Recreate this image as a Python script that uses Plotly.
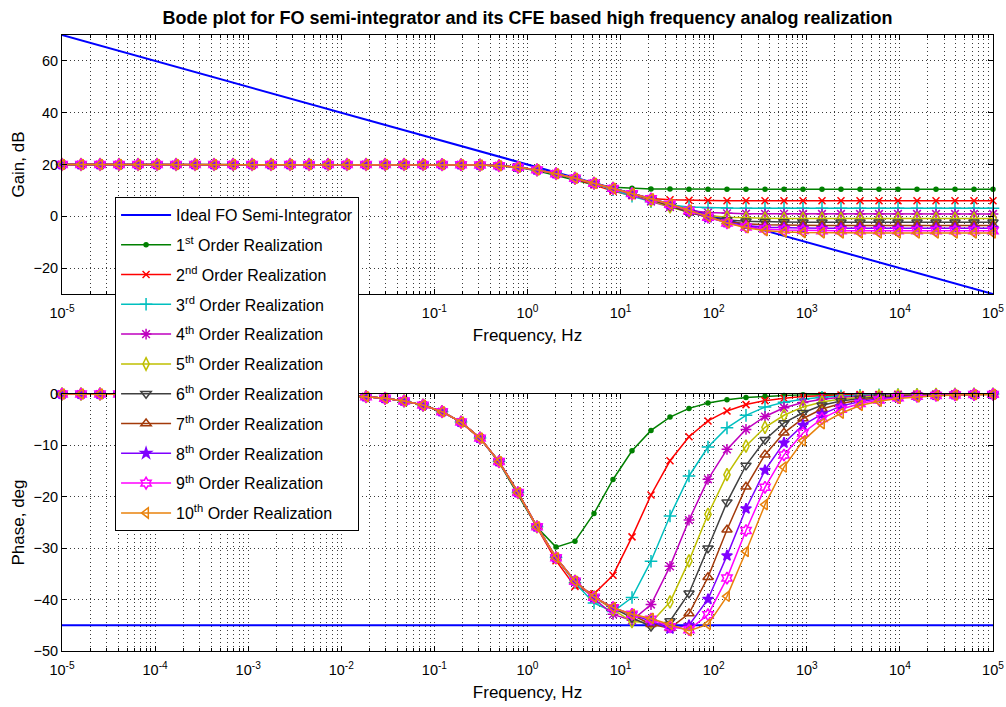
import plotly.graph_objects as go

# ---------------- data ----------------
freq = [1.000e-05, 1.600e-05, 2.560e-05, 4.095e-05, 6.551e-05,
        1.048e-04, 1.677e-04, 2.683e-04, 4.292e-04, 6.866e-04,
        1.099e-03, 1.758e-03, 2.812e-03, 4.499e-03, 7.197e-03,
        1.151e-02, 1.842e-02, 2.947e-02, 4.715e-02, 7.543e-02,
        0.1207, 0.1931, 0.3089, 0.4942, 0.7906,
        1.265, 2.024, 3.237, 5.179, 8.286,
        13.26, 21.21, 33.93, 54.29, 86.85,
        138.9, 222.3, 355.6, 569.0, 910.3,
        1456, 2330, 3728, 5964, 9541,
        15264, 24421, 39069, 62506, 100000]

ideal_freq = [1e-05, 1e05]
ideal_gain = [70.0, -30.0]
ideal_phase = [-45.0, -45.0]

gain_1 = [20.0, 20.0, 20.0, 20.0, 20.0, 20.0, 20.0, 20.0, 20.0, 20.0,
          20.0, 20.0, 20.0, 20.0, 20.0, 20.0, 20.0, 20.0, 20.0, 19.99,
          19.97, 19.92, 19.80, 19.51, 18.86, 17.63, 15.80, 13.80, 12.21, 11.26,
          10.79, 10.59, 10.51, 10.48, 10.47, 10.46, 10.46, 10.46, 10.46, 10.46,
          10.46, 10.46, 10.46, 10.46, 10.46, 10.46, 10.46, 10.46, 10.46, 10.46]
gain_2 = [20.0, 20.0, 20.0, 20.0, 20.0, 20.0, 20.0, 20.0, 20.0, 20.0,
          20.0, 20.0, 20.0, 20.0, 20.0, 20.0, 20.0, 20.0, 20.0, 19.99,
          19.97, 19.92, 19.80, 19.53, 18.95, 17.94, 16.45, 14.46, 12.07, 9.73,
          7.95, 6.90, 6.39, 6.17, 6.08, 6.04, 6.03, 6.02, 6.02, 6.02,
          6.02, 6.02, 6.02, 6.02, 6.02, 6.02, 6.02, 6.02, 6.02, 6.02]
gain_3 = [20.0, 20.0, 20.0, 20.0, 20.0, 20.0, 20.0, 20.0, 20.0, 20.0,
          20.0, 20.0, 20.0, 20.0, 20.0, 20.0, 20.0, 20.0, 20.0, 19.99,
          19.97, 19.92, 19.80, 19.53, 18.95, 17.93, 16.46, 14.72, 12.68, 10.28,
          7.77, 5.68, 4.33, 3.63, 3.32, 3.19, 3.13, 3.11, 3.10, 3.10,
          3.10, 3.10, 3.10, 3.10, 3.10, 3.10, 3.10, 3.10, 3.10, 3.10]
gain_4 = [20.0, 20.0, 20.0, 20.0, 20.0, 20.0, 20.0, 20.0, 20.0, 20.0,
          20.0, 20.0, 20.0, 20.0, 20.0, 20.0, 20.0, 20.0, 20.0, 19.99,
          19.97, 19.92, 19.80, 19.53, 18.95, 17.93, 16.46, 14.71, 12.83, 10.73,
          8.27, 5.71, 3.59, 2.20, 1.48, 1.15, 1.01, 0.95, 0.93, 0.92,
          0.92, 0.92, 0.92, 0.92, 0.92, 0.92, 0.92, 0.92, 0.92, 0.92]
gain_5 = [20.0, 20.0, 20.0, 20.0, 20.0, 20.0, 20.0, 20.0, 20.0, 20.0,
          20.0, 20.0, 20.0, 20.0, 20.0, 20.0, 20.0, 20.0, 20.0, 19.99,
          19.97, 19.92, 19.80, 19.53, 18.95, 17.93, 16.46, 14.70, 12.80, 10.84,
          8.66, 6.15, 3.63, 1.61, 0.32, -0.33, -0.62, -0.74, -0.80, -0.82,
          -0.83, -0.83, -0.83, -0.83, -0.83, -0.83, -0.83, -0.83, -0.83, -0.83]
gain_6 = [20.0, 20.0, 20.0, 20.0, 20.0, 20.0, 20.0, 20.0, 20.0, 20.0,
          20.0, 20.0, 20.0, 20.0, 20.0, 20.0, 20.0, 20.0, 20.0, 19.99,
          19.97, 19.92, 19.80, 19.53, 18.95, 17.93, 16.46, 14.70, 12.78, 10.82,
          8.80, 6.52, 3.95, 1.51, -0.31, -1.38, -1.90, -2.12, -2.22, -2.26,
          -2.27, -2.28, -2.28, -2.28, -2.28, -2.28, -2.28, -2.28, -2.28, -2.28]
gain_7 = [20.0, 20.0, 20.0, 20.0, 20.0, 20.0, 20.0, 20.0, 20.0, 20.0,
          20.0, 20.0, 20.0, 20.0, 20.0, 20.0, 20.0, 20.0, 20.0, 19.99,
          19.97, 19.92, 19.80, 19.53, 18.95, 17.93, 16.46, 14.70, 12.78, 10.79,
          8.81, 6.71, 4.29, 1.71, -0.53, -2.05, -2.87, -3.24, -3.41, -3.48,
          -3.51, -3.52, -3.52, -3.52, -3.52, -3.52, -3.52, -3.52, -3.52, -3.52]
gain_8 = [20.0, 20.0, 20.0, 20.0, 20.0, 20.0, 20.0, 20.0, 20.0, 20.0,
          20.0, 20.0, 20.0, 20.0, 20.0, 20.0, 20.0, 20.0, 20.0, 19.99,
          19.97, 19.92, 19.80, 19.53, 18.95, 17.93, 16.46, 14.70, 12.78, 10.79,
          8.78, 6.77, 4.53, 1.99, -0.50, -2.42, -3.59, -4.18, -4.44, -4.54,
          -4.59, -4.60, -4.61, -4.61, -4.61, -4.61, -4.61, -4.61, -4.61, -4.61]
gain_9 = [20.0, 20.0, 20.0, 20.0, 20.0, 20.0, 20.0, 20.0, 20.0, 20.0,
          20.0, 20.0, 20.0, 20.0, 20.0, 20.0, 20.0, 20.0, 20.0, 19.99,
          19.97, 19.92, 19.80, 19.53, 18.95, 17.93, 16.46, 14.70, 12.78, 10.79,
          8.76, 6.78, 4.67, 2.25, -0.33, -2.57, -4.09, -4.92, -5.29, -5.46,
          -5.54, -5.56, -5.58, -5.58, -5.58, -5.58, -5.58, -5.58, -5.58, -5.58]
gain_10 = [20.0, 20.0, 20.0, 20.0, 20.0, 20.0, 20.0, 20.0, 20.0, 20.0,
           20.0, 20.0, 20.0, 20.0, 20.0, 20.0, 20.0, 20.0, 20.0, 19.99,
           19.97, 19.92, 19.80, 19.53, 18.95, 17.93, 16.46, 14.70, 12.78, 10.79,
           8.76, 6.76, 4.73, 2.45, -0.11, -2.56, -4.42, -5.51, -6.06, -6.28,
           -6.38, -6.42, -6.44, -6.44, -6.44, -6.44, -6.44, -6.44, -6.44, -6.44]

phase_1 = [0.0, 0.0, 0.0, 0.0, 0.0, 0.0, 0.0, 0.0, 0.0, 0.0,
           -0.03, -0.05, -0.08, -0.13, -0.21, -0.33, -0.53, -0.84, -1.35, -2.16,
           -3.44, -5.48, -8.63, -13.30, -19.48, -25.94, -29.79, -28.64, -23.24, -16.63,
           -11.05, -7.08, -4.48, -2.80, -1.76, -1.10, -0.69, -0.43, -0.27, -0.17,
           -0.11, -0.07, -0.04, -0.03, -0.02, -0.01, 0.0, 0.0, 0.0, 0.0]
phase_2 = [0.0, 0.0, 0.0, 0.0, 0.0, 0.0, 0.0, 0.0, 0.0, 0.0,
           -0.03, -0.05, -0.08, -0.13, -0.21, -0.33, -0.53, -0.84, -1.35, -2.16,
           -3.44, -5.46, -8.58, -13.15, -19.16, -25.94, -32.43, -37.43, -38.87, -35.25,
           -27.80, -19.65, -12.99, -8.31, -5.24, -3.29, -2.06, -1.29, -0.81, -0.50,
           -0.31, -0.20, -0.12, -0.08, -0.05, -0.03, -0.02, -0.01, 0.0, 0.0]
phase_3 = [0.0, 0.0, 0.0, 0.0, 0.0, 0.0, 0.0, 0.0, 0.0, 0.0,
           -0.03, -0.05, -0.08, -0.13, -0.21, -0.33, -0.53, -0.84, -1.35, -2.16,
           -3.44, -5.46, -8.58, -13.15, -19.17, -25.83, -31.80, -36.73, -40.67, -42.33,
           -39.60, -32.53, -23.74, -15.95, -10.31, -6.59, -4.15, -2.55, -1.59, -1.00,
           -0.62, -0.39, -0.24, -0.15, -0.10, -0.06, -0.04, -0.02, -0.01, -0.01]
phase_4 = [0.0, 0.0, 0.0, 0.0, 0.0, 0.0, 0.0, 0.0, 0.0, 0.0,
           -0.03, -0.05, -0.08, -0.13, -0.21, -0.33, -0.53, -0.84, -1.35, -2.16,
           -3.44, -5.46, -8.58, -13.15, -19.17, -25.83, -31.86, -36.35, -39.83, -42.87,
           -44.04, -40.96, -33.53, -24.53, -16.60, -10.77, -6.89, -4.38, -2.67, -1.67,
           -1.04, -0.65, -0.41, -0.25, -0.16, -0.10, -0.06, -0.04, -0.02, -0.02]
phase_5 = [0.0, 0.0, 0.0, 0.0, 0.0, 0.0, 0.0, 0.0, 0.0, 0.0,
           -0.03, -0.05, -0.08, -0.13, -0.21, -0.33, -0.53, -0.84, -1.35, -2.16,
           -3.44, -5.46, -8.58, -13.15, -19.17, -25.83, -31.86, -36.42, -39.49, -41.97,
           -44.28, -44.50, -40.46, -32.47, -23.41, -15.69, -10.13, -6.48, -4.14, -2.51,
           -1.57, -0.98, -0.61, -0.38, -0.24, -0.15, -0.09, -0.06, -0.04, -0.02]
phase_6 = [0.0, 0.0, 0.0, 0.0, 0.0, 0.0, 0.0, 0.0, 0.0, 0.0,
           -0.03, -0.05, -0.08, -0.13, -0.21, -0.33, -0.53, -0.84, -1.35, -2.16,
           -3.44, -5.46, -8.58, -13.15, -19.17, -25.83, -31.86, -36.42, -39.54, -41.58,
           -43.54, -45.24, -44.16, -38.75, -30.02, -21.04, -13.89, -8.91, -5.63, -3.65,
           -2.20, -1.37, -0.86, -0.54, -0.34, -0.21, -0.13, -0.08, -0.05, -0.03]
phase_7 = [0.0, 0.0, 0.0, 0.0, 0.0, 0.0, 0.0, 0.0, 0.0, 0.0,
           -0.03, -0.05, -0.08, -0.13, -0.21, -0.33, -0.53, -0.84, -1.35, -2.16,
           -3.44, -5.46, -8.58, -13.15, -19.17, -25.83, -31.86, -36.42, -39.54, -41.56,
           -43.00, -44.79, -45.56, -42.70, -35.65, -26.42, -18.06, -11.80, -7.55, -4.76,
           -2.93, -1.83, -1.15, -0.72, -0.45, -0.28, -0.17, -0.11, -0.07, -0.04]
phase_8 = [0.0, 0.0, 0.0, 0.0, 0.0, 0.0, 0.0, 0.0, 0.0, 0.0,
           -0.03, -0.05, -0.08, -0.13, -0.21, -0.33, -0.53, -0.84, -1.35, -2.16,
           -3.44, -5.46, -8.58, -13.15, -19.17, -25.83, -31.86, -36.42, -39.54, -41.56,
           -42.83, -44.21, -45.68, -44.99, -39.93, -31.45, -22.32, -14.83, -9.51, -6.07,
           -3.90, -2.36, -1.47, -0.92, -0.58, -0.36, -0.22, -0.14, -0.09, -0.05]
phase_9 = [0.0, 0.0, 0.0, 0.0, 0.0, 0.0, 0.0, 0.0, 0.0, 0.0,
           -0.03, -0.05, -0.08, -0.13, -0.21, -0.33, -0.53, -0.84, -1.35, -2.16,
           -3.44, -5.46, -8.58, -13.15, -19.17, -25.83, -31.86, -36.42, -39.54, -41.56,
           -42.84, -43.80, -45.30, -45.87, -42.93, -35.81, -26.56, -18.16, -11.86, -7.59,
           -4.78, -2.95, -1.84, -1.15, -0.72, -0.45, -0.28, -0.18, -0.11, -0.07]
phase_10 = [0.0, 0.0, 0.0, 0.0, 0.0, 0.0, 0.0, 0.0, 0.0, 0.0,
            -0.03, -0.05, -0.08, -0.13, -0.21, -0.33, -0.53, -0.84, -1.35, -2.16,
            -3.44, -5.46, -8.58, -13.15, -19.17, -25.83, -31.86, -36.42, -39.54, -41.56,
            -42.84, -43.66, -44.82, -46.05, -44.82, -39.36, -30.63, -21.52, -14.21, -9.11,
            -5.78, -3.74, -2.25, -1.41, -0.88, -0.55, -0.34, -0.21, -0.13, -0.08]

series_names = ["1<sup>st</sup> Order Realization", "2<sup>nd</sup> Order Realization",
                "3<sup>rd</sup> Order Realization", "4<sup>th</sup> Order Realization",
                "5<sup>th</sup> Order Realization", "6<sup>th</sup> Order Realization",
                "7<sup>th</sup> Order Realization", "8<sup>th</sup> Order Realization",
                "9<sup>th</sup> Order Realization", "10<sup>th</sup> Order Realization"]
gains = [gain_1, gain_2, gain_3, gain_4, gain_5, gain_6, gain_7, gain_8, gain_9, gain_10]
phases = [phase_1, phase_2, phase_3, phase_4, phase_5, phase_6, phase_7, phase_8, phase_9, phase_10]

x_tick_vals = [1e-05, 1e-04, 1e-03, 1e-02, 1e-01, 1e00, 1e01, 1e02, 1e03, 1e04, 1e05]
x_tick_text = ["10<sup>-5</sup>", "10<sup>-4</sup>", "10<sup>-3</sup>", "10<sup>-2</sup>",
               "10<sup>-1</sup>", "10<sup>0</sup>", "10<sup>1</sup>", "10<sup>2</sup>",
               "10<sup>3</sup>", "10<sup>4</sup>", "10<sup>5</sup>"]
gain_ticks = [-20, 0, 20, 40, 60]
phase_ticks = [-50, -40, -30, -20, -10, 0]

# ---------------- styles ----------------
colors = ["#008000", "#FF0000", "#00BFBF", "#BF00BF", "#BFBF00",
          "#404040", "#A33A0A", "#7F00FF", "#FF00FF", "#E8820C"]
symbols = ["circle", "x-thin-open", "cross-thin-open", "asterisk-open", "diamond-tall-open",
           "triangle-down-open", "triangle-up-open", "star", "hexagram-open", "triangle-left-open"]
sizes = [4, 7, 9, 9, 9, 9, 9, 8, 9, 9]

FONT = "Liberation Sans, Arial, sans-serif"
minor_vals = [m * 10.0 ** e for e in range(-5, 5) for m in range(2, 10)]

fig = go.Figure()
fig.add_trace(go.Scatter(x=ideal_freq, y=ideal_gain, mode="lines", name="Ideal FO Semi-Integrator",
                         line=dict(color="#0000FF", width=2), xaxis="x", yaxis="y",
                         legendgroup="g00"))
fig.add_trace(go.Scatter(x=ideal_freq, y=ideal_phase, mode="lines", showlegend=False,
                         line=dict(color="#0000FF", width=2), xaxis="x2", yaxis="y2",
                         legendgroup="g00"))
for i in range(10):
    mk = dict(symbol=symbols[i], size=sizes[i], color=colors[i],
              line=dict(color=colors[i], width=1.5))
    fig.add_trace(go.Scatter(x=freq, y=gains[i], mode="lines+markers", name=series_names[i],
                             line=dict(color=colors[i], width=1.5), marker=mk,
                             xaxis="x", yaxis="y", cliponaxis=False,
                             legendgroup="g%02d" % (i + 1)))
    fig.add_trace(go.Scatter(x=freq, y=phases[i], mode="lines+markers", showlegend=False,
                             line=dict(color=colors[i], width=1.5), marker=mk,
                             xaxis="x2", yaxis="y2", cliponaxis=False,
                             legendgroup="g%02d" % (i + 1)))

grid_col = "#3a3a3a"
grid_dash = "1px,3px"


def xaxis_style(anchor):
    return dict(type="log", range=[-5, 5], anchor=anchor, domain=[0, 1], automargin=False,
                tickmode="array", tickvals=x_tick_vals, ticktext=x_tick_text,
                ticks="inside", ticklen=5, tickcolor="black", tickwidth=1,
                showline=True, linecolor="black", linewidth=1, mirror="ticks",
                showgrid=True, gridcolor=grid_col, griddash=grid_dash, gridwidth=1,
                zeroline=False, ticklabelstandoff=6,
                minor=dict(tickmode="array", tickvals=minor_vals, ticks="inside", ticklen=3,
                           tickcolor="black", showgrid=True, gridcolor=grid_col,
                           griddash=grid_dash, gridwidth=1),
                tickfont=dict(family=FONT, size=14.5, color="black"),
                title=dict(text="Frequency, Hz", font=dict(family=FONT, size=17, color="black"),
                           standoff=8))


def yaxis_style(anchor, domain, rng, ticks, title):
    return dict(range=rng, anchor=anchor, domain=domain, automargin=False,
                tickmode="array", tickvals=ticks,
                ticks="inside", ticklen=5, tickcolor="black", tickwidth=1,
                showline=True, linecolor="black", linewidth=1, mirror="ticks",
                showgrid=True, gridcolor=grid_col, griddash=grid_dash, gridwidth=1,
                zeroline=False,
                tickfont=dict(family=FONT, size=14.5, color="black"),
                title=dict(text=title, font=dict(family=FONT, size=17, color="black"),
                           standoff=4))


fig.update_layout(
    width=1006, height=707,
    margin=dict(l=62, r=13, t=35, b=56, autoexpand=False),
    paper_bgcolor="white", plot_bgcolor="white",
    font=dict(family=FONT, size=14, color="black"),
    title=dict(text="<b>Bode plot for FO semi-integrator and its CFE based high frequency analog realization</b>",
               x=0.5, xref="paper", xanchor="center", y=0.975, yref="container", yanchor="middle",
               font=dict(family=FONT, size=18, color="black")),
    xaxis=xaxis_style("y"),
    yaxis=yaxis_style("x", [0.5795, 1.0], [-30, 70], gain_ticks, "Gain, dB"),
    xaxis2=xaxis_style("y2"),
    yaxis2=yaxis_style("x2", [0.0, 0.4172], [-50, 0], phase_ticks, "Phase, deg"),
    legend=dict(x=0.057, y=0.737, xanchor="left", yanchor="top", bgcolor="white",
                bordercolor="black", borderwidth=1, font=dict(family=FONT, size=16, color="black"),
                itemwidth=50, tracegroupgap=6, traceorder="grouped"),
    showlegend=True,
)

fig.write_html("out.html")
